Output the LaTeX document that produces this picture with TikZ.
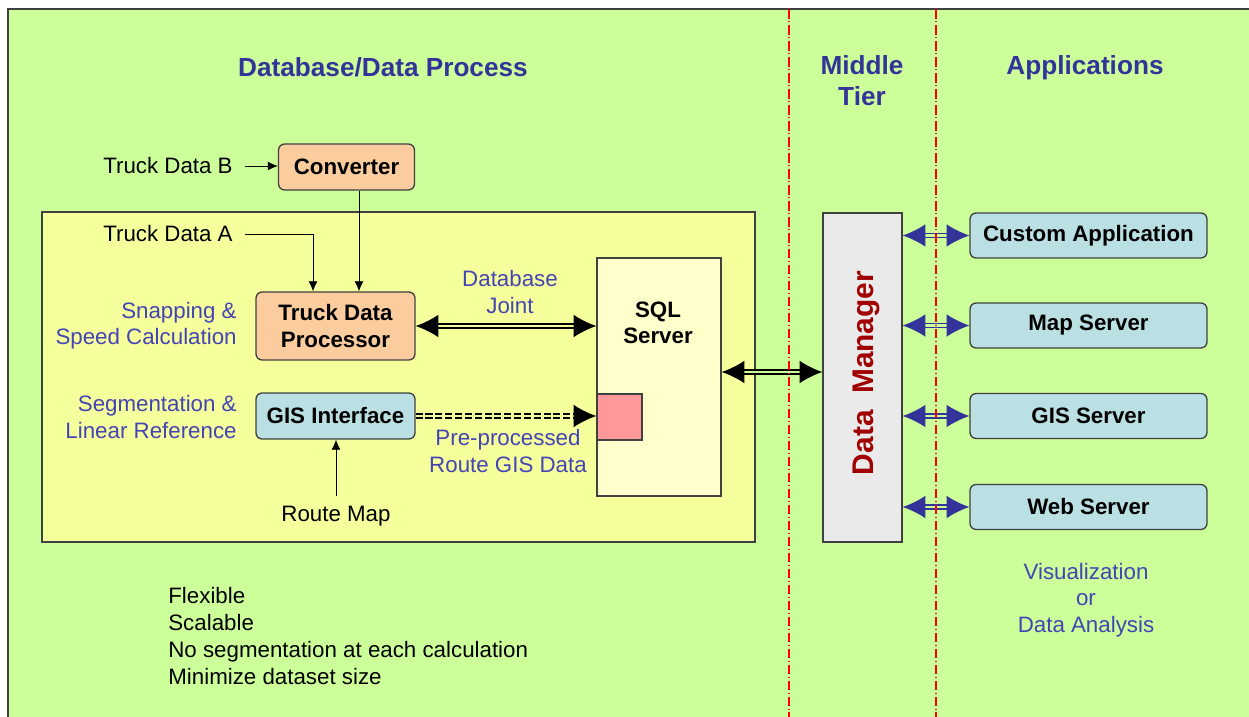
\documentclass[tikz,border=0pt]{standalone}
\usepackage{fontspec}
\setmainfont{Liberation Sans}
\usetikzlibrary{arrows.meta}
\definecolor{bggreen}{RGB}{204,255,153}
\definecolor{dbyellow}{RGB}{245,255,155}
\definecolor{sqlfill}{RGB}{255,255,204}
\definecolor{peach}{RGB}{250,204,158}
\definecolor{lightblue}{RGB}{187,224,227}
\definecolor{dmgray}{RGB}{234,234,234}
\definecolor{cachepink}{RGB}{255,153,153}
\definecolor{headblue}{RGB}{51,51,153}
\definecolor{noteblue}{RGB}{68,68,180}
\definecolor{dmred}{RGB}{160,0,0}
\definecolor{boxline}{RGB}{64,64,64}
\newcommand{\bodyfont}{\fontsize{12.7}{15}\selectfont}
\tikzset{>={Latex[length=5.7pt,width=5pt]}}
\tikzset{%
  heading/.style={text=headblue, font=\fontsize{14.9}{17.6}\selectfont\bfseries, align=center, inner sep=0pt},
  plain/.style={font=\bodyfont, align=center, inner sep=0pt},
  note/.style={font=\bodyfont, text=noteblue, align=center, inner sep=0pt},
  procbox/.style={draw=boxline, fill=peach, rounded corners=3.5pt, line width=0.75pt, font=\bodyfont\bfseries, align=center, inner sep=0pt},
  appbox/.style={procbox, fill=lightblue},
  dbl/.style={double=dbyellow, double distance=1.6pt, line width=0.8pt, {Latex[length=13pt,width=13pt]}-{Latex[length=13pt,width=13pt]}},
  bluedbl/.style={dbl, draw=headblue, double=bggreen},
  tierline/.style={red, line width=0.6pt, dash pattern=on 5.5pt off 1.5pt on 0.6pt off 1.5pt}
}
\begin{document}
\begin{tikzpicture}[x=0.02cm, y=-0.02cm]
  \useasboundingbox (0,0) rectangle (1249,717);

  % background and database area
  \fill[bggreen] (8,9) rectangle (1249,717);
  \draw[boxline, line width=1.2pt] (8,717) -- (8,9) -- (1249,9);
  \draw[boxline, fill=dbyellow, line width=0.75pt] (42,212) rectangle (755,542);

  % headings
  \node[heading] (hdb) at (383,67) {Database/Data Process};
  \node[heading] (hmid) at (862,81) {Middle\\Tier};
  \node[heading] (happ) at (1085,68) {Applications};

  % process boxes
  \node[procbox, minimum width=2.72cm, minimum height=0.92cm] (conv) at (346.5,167) {Converter};
  \node[procbox, minimum width=3.18cm, minimum height=1.36cm] (tdp) at (335.5,326) {Truck Data\\Processor};
  \node[appbox, minimum width=3.18cm, minimum height=0.92cm] (gis) at (335.5,416) {GIS Interface};

  % inputs
  \node[plain, anchor=east, inner xsep=0.24cm] (tdb) at (245,166) {Truck Data B};
  \node[plain, anchor=east, inner xsep=0.24cm] (tda) at (245,234) {Truck Data A};
  \node[plain] (rmap) at (336,516) {Route Map};
  \draw[->] (tdb.east) -- (tdb.east -| conv.west);
  \draw[->] (tda.east) -| ([xshift=-0.45cm]tdp.north);
  \draw[->] ([xshift=0.25cm]conv.south) -- ([xshift=0.25cm]conv.south |- tdp.north);
  \draw[->, shorten <=0.2cm] (rmap.north) -- (rmap.north |- gis.south);

  % side notes
  \node[note, anchor=east, align=right] (snap) at (237,326) {Snapping \&\\Speed Calculation};
  \node[note, anchor=east, align=right] (seg) at (237,417) {Segmentation \&\\Linear Reference};
  \node[note] (joint) at (510,292) {Database\\Joint};
  \node[note] (prep) at (508,451) {Pre-processed\\Route GIS Data};

  % sql server
  \node[draw=boxline, fill=sqlfill, line width=0.75pt, minimum width=2.48cm, minimum height=4.76cm] (sql) at (659,377) {};
  \node[plain, font=\bodyfont\bfseries] (sqltext) at (658,323) {SQL\\Server};
  \node[draw=boxline, fill=cachepink, line width=0.75pt, minimum width=0.9cm, minimum height=0.92cm] (cache) at (619.5,417) {};
  \draw[dbl] (tdp.east) -- (tdp.east -| sql.west);
  \draw[dbl, -{Latex[length=13pt,width=13pt]}, dash pattern=on 4pt off 1.6pt] (gis.east) -- (gis.east -| cache.west);

  % data manager
  \node[draw=boxline, fill=dmgray, line width=0.75pt, minimum width=1.58cm, minimum height=6.58cm] (dm) at (862.5,377.5) {};
  \node[rotate=90, text=dmred, font=\fontsize{17}{20}\selectfont\bfseries, inner sep=0pt] (dmtext) at (866,373) {Data\ \ Manager};
  \draw[dbl, double=bggreen] ([yshift=0.1cm]sql.east) -- ([yshift=0.1cm]sql.east -| dm.west);

  % applications
  \foreach \name/\y/\txt in {custom/235.5/Custom Application, map/325.5/Map Server, gisserver/416/GIS Server, web/507/Web Server}
  {
    \node[appbox, minimum width=4.74cm, minimum height=0.9cm] (\name) at (1088.5,\y) {\txt};
    \draw[bluedbl] (dm.east |- \name.west) -- (\name.west);
  }
  \node[note] (visu) at (1086,600) {Visualization\\or\\Data Analysis};

  % remarks
  \node[plain, anchor=west, align=left, font=\fontsize{12.7}{15.3}\selectfont] (remarks) at (168,636) {Flexible\\Scalable\\No segmentation at each calculation\\Minimize dataset size};

  % tier borders
  \draw[tierline] (789,9) -- (789,717);
  \draw[tierline] (936,9) -- (936,717);
\end{tikzpicture}
\end{document}
